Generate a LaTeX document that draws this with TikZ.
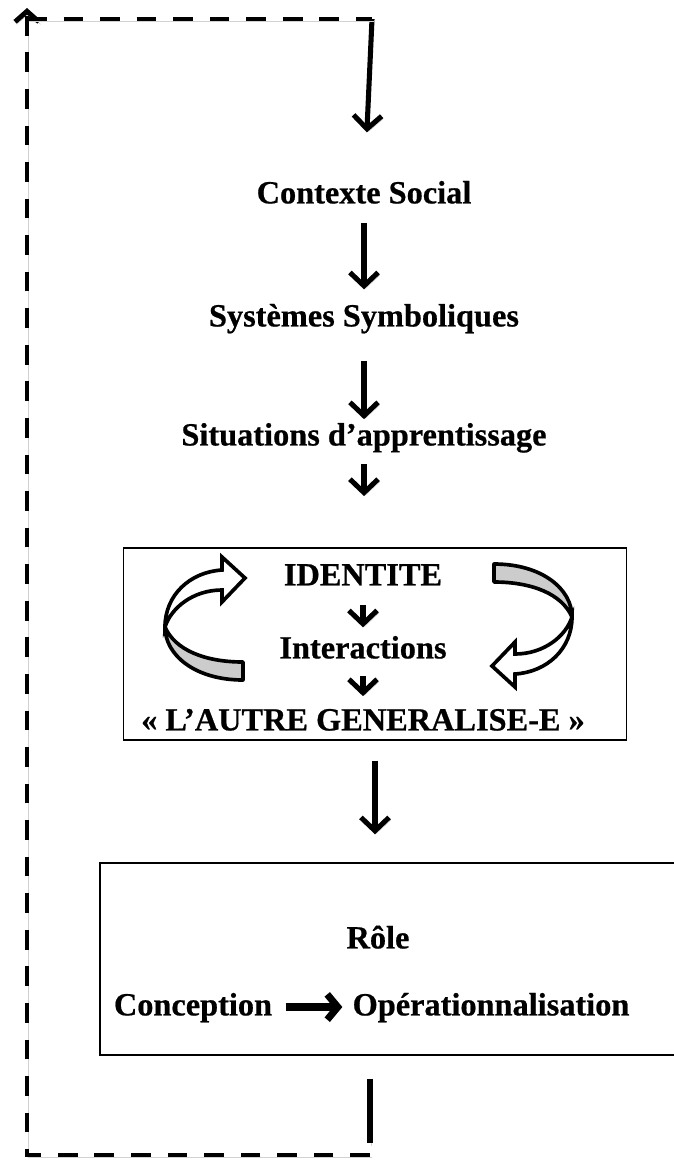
\documentclass[tikz,border=0pt]{standalone}
\usepackage{fontspec}
\setmainfont{Liberation Serif}[BoldFeatures={FakeBold=0.6}]
\usetikzlibrary{arrows.meta,calc,positioning}

\begin{document}
\begin{tikzpicture}[x=0.025cm, y=-0.025cm, node distance=3cm,
    lbl/.style={font=\fontsize{23}{27}\selectfont\bfseries, inner sep=0pt, text height=0.57cm, text depth=0.15cm},
    softshadow/.style={preaction={draw=black!18, transform canvas={shift={(1.2pt,-1.8pt)}}}},
    flow/.style={line width=3.6pt, -{Straight Barb[length=9.5pt,width=20pt]}, softshadow},
    fatflow/.style={flow, line width=5pt, -{Straight Barb[length=7.5pt,width=18pt]}},
    feedback/.style={line width=3.5pt, dash pattern=on 14pt off 12pt, softshadow},
    frame/.style={draw, line width=1pt, inner sep=0pt},
    twistarrow/.pic={
      % back of the ribbon
      \filldraw[fill=black!20, line width=2.6pt, line join=round]
        (38,60) .. controls (-10,60) and (-40,35) .. (-40,7)
        .. controls (-30,30) and (0,42) .. (38,42) -- cycle;
      % front of the ribbon with its head
      \filldraw[fill=white, line width=2.6pt, line join=miter]
        (-40,7) .. controls (-40,-25) and (-15,-48) .. (17,-50)
        -- (17,-63) -- (40,-42) -- (17,-18) -- (17,-30)
        .. controls (-12,-30) and (-34,-12) .. (-40,7) -- cycle;
    }]
    \useasboundingbox (0,0) rectangle (674,1160);
    \clip (0,0) rectangle (674,1160);

    % Loop corners
    \coordinate (topL) at (27,19);
    \coordinate (tipL) at (27,8);
    \coordinate (topR) at (372,19);
    \coordinate (botL) at (27,1155);
    \coordinate (botR) at (370,1155);

    % Define labels
    \node[lbl] (ctx) at (364,195) {Contexte Social};
    \node[lbl, below of=ctx, node distance=3.075cm] (sym) {Systèmes Symboliques};
    \node[lbl, below of=sym, node distance=2.975cm] (sit) {Situations d’apprentissage};

    % Identity box
    \node[frame, minimum width=12.575cm, minimum height=4.8cm] (idbox) at (375,644) {};
    \node[lbl] (ident) at (363,577) {IDENTITE};
    \node[lbl, below of=ident, node distance=1.825cm] (inter) {Interactions};
    \node[lbl, below of=inter, node distance=1.8cm] (autre) {« L’AUTRE GENERALISE-E »};
    \pic at (205,620) {twistarrow};
    \pic[rotate=180] at (532,624) {twistarrow};

    % Role box
    \node[frame, minimum width=14.75cm, minimum height=4.8cm] (rolebox) at (395,959) {};
    \node[lbl] (role) at (378,940) {Rôle};
    \node[lbl] (concep) at (193,1007) {Conception};
    \node[lbl, right=2cm of concep] (oper) {Opérationnalisation};

    % Transitions
    \draw[flow, shorten >=1.2cm] (topR) -- (ctx);
    \draw[flow, shorten <=0.33cm, shorten >=0.35cm] (ctx) -- (sym);
    \draw[flow, shorten <=0.7cm, shorten >=0.08cm] (sym) -- (sit);
    \draw[flow, shorten <=0.3cm, shorten >=1.28cm] (sit) -- (sit |- idbox.north);
    \draw[flow, shorten <=0.33cm, shorten >=0.2cm] (ident) -- (inter);
    \draw[flow, shorten <=0.28cm, shorten >=0.28cm] (inter) -- (autre);
    \draw[flow, shorten <=0.5cm, shorten >=0.7cm] (idbox.south) -- (idbox.south |- rolebox.north);
    \draw[fatflow, shorten <=0.33cm, shorten >=0.25cm] (concep) -- (oper);
    \draw[line width=3.6pt, softshadow, shorten <=0.58cm, shorten >=0.3cm] (rolebox.south -| botR) -- (botR);

    % Feedback loop
    \draw[feedback, -{Straight Barb[length=7.5pt,width=17pt]}] (botR) -- (botL) -- (tipL);
    \draw[feedback] (topL) -- (topR);

\end{tikzpicture}
\end{document}
